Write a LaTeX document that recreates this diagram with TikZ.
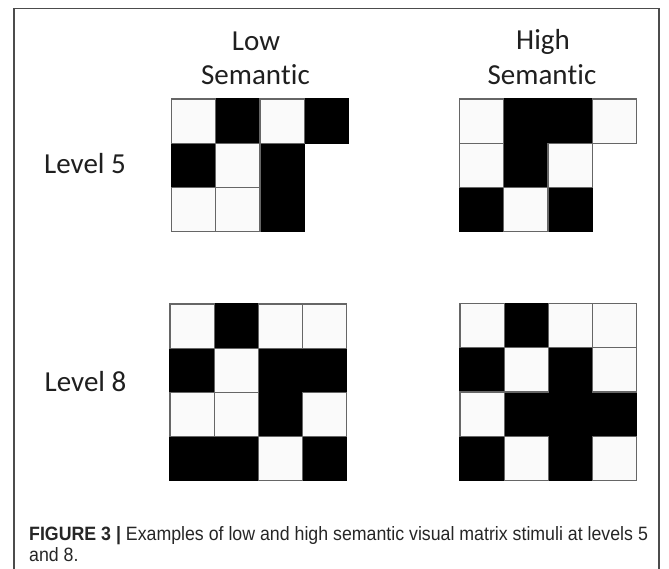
\documentclass[tikz,border=0pt]{standalone}
\usepackage{fontspec}
\setmainfont{Carlito}[Ligatures=NoCommon]
\newfontfamily\capfont{Liberation Sans}[FakeStretch=0.92]
\begin{document}
\begin{tikzpicture}[x=1pt,y=-1pt,
  lab/.style={anchor=base,inner sep=0pt,text=black!88,font=\fontsize{29}{34}\selectfont},
  capt/.style={anchor=base west,inner sep=0pt,text=black!85,font=\capfont\fontsize{19.3}{20}\selectfont},
  frame/.style={draw=black!70,line width=1.2pt},
  wcell/.style={fill=white!98!black,draw=black!60,line width=1.2pt},
  bcell/.style={fill=black,draw=black,line width=1.2pt}]
\useasboundingbox (0,0) rectangle (669,569);
\fill[white] (0,0) rectangle (669,569);
% frame
\coordinate (fbl) at (14,569);
\coordinate (ftl) at (14,8.5);
\coordinate (ftr) at (659,8.5);
\coordinate (fbr) at (659,569);
\draw[frame] (fbl) -- (ftl) -- (ftr) -- (fbr);
% labels
\node[lab] (low) at (256,50.7) {Low};
\node[lab] (lowsem) at (255.5,85) {Seman\kern0pt tic};
\node[lab] (high) at (543,49.5) {High};
\node[lab] (highsem) at (542,84.5) {Seman\kern0pt tic};
\node[lab] (lv5) at (85,174) {Level 5};
\node[lab] (lv8) at (85.5,391.7) {Level 8};
% grids: \mygrid{x0}{y0}{black cells}{white cells}  (cells given as col/row)
\def\cs{44.2}
\newcommand\mygrid[4]{%
  \foreach \c/\r in {#3} {\draw[bcell] ({#1+\c*\cs},{#2+\r*\cs}) rectangle ++(\cs,\cs);}%
  \foreach \c/\r in {#4} {\draw[wcell] ({#1+\c*\cs},{#2+\r*\cs}) rectangle ++(\cs,\cs);}%
}
% Low level 5
\mygrid{171.5}{99}{1/0,3/0,0/1,2/1,2/2}{0/0,2/0,1/1,0/2,1/2}
% High level 5
\mygrid{459.5}{99}{1/0,2/0,1/1,0/2,2/2}{0/0,3/0,0/1,2/1,1/2}
% Low level 8
\mygrid{170}{304}{1/0,0/1,2/1,3/1,2/2,0/3,1/3,3/3}{0/0,2/0,3/0,1/1,0/2,1/2,3/2,2/3}
% High level 8
\mygrid{460}{303.5}{1/0,0/1,2/1,1/2,2/2,3/2,0/3,2/3}{0/0,2/0,3/0,1/1,3/1,0/2,1/3,3/3}
% caption
\node[capt] (cap1) at (29,540.5) {\textbf{FIGURE 3 |} Examples of low and high semantic visual matrix stimuli at levels 5};
\node[capt] (cap2) at (29,561) {and 8.};
\end{tikzpicture}
\end{document}
